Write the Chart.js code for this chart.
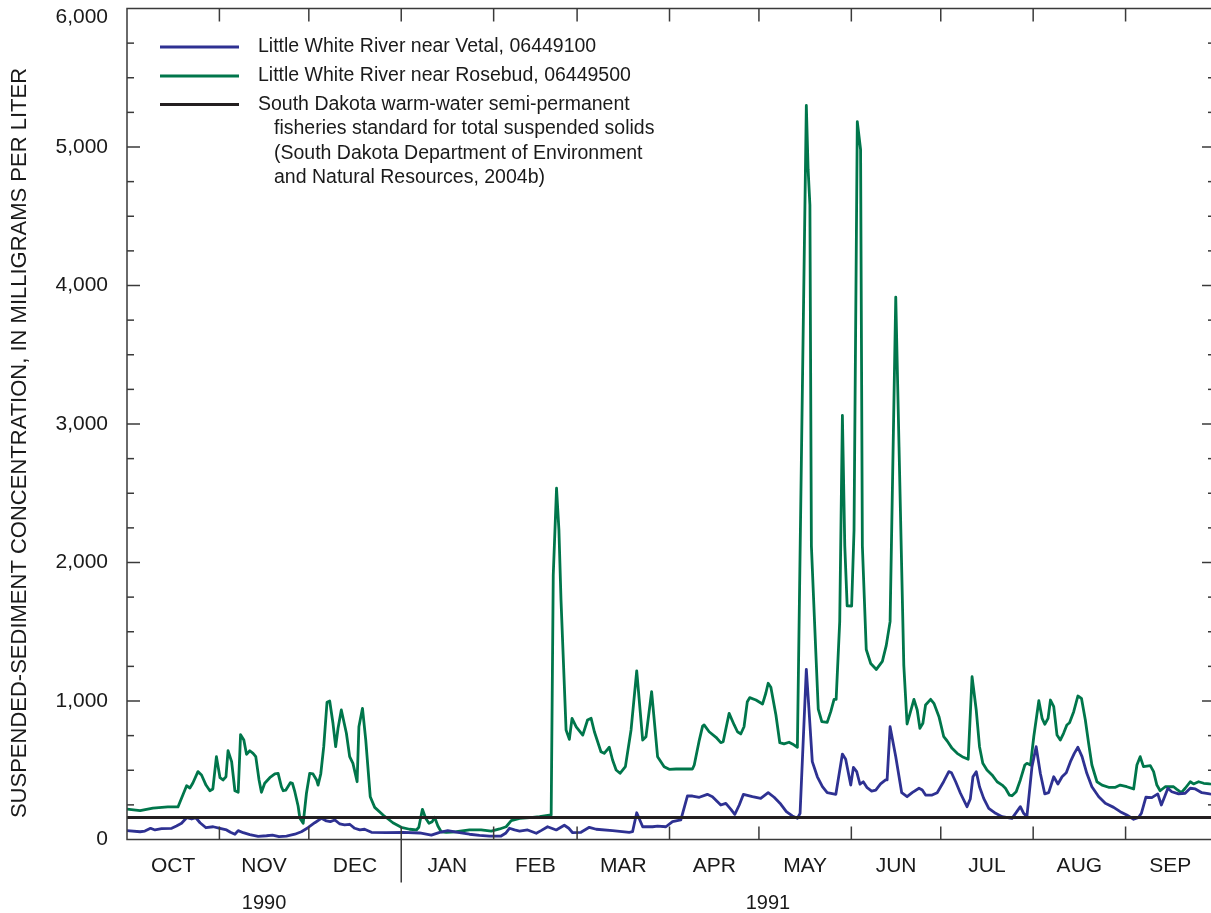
<!DOCTYPE html>
<html>
<head>
<meta charset="utf-8">
<script src="https://cdn.jsdelivr.net/npm/chart.js@4.4.1/dist/chart.umd.min.js"></script>
<style>
  html, body { margin: 0; padding: 0; overflow: hidden; background: #ffffff; }
  #wrap { width: 1215px; height: 913px; }
</style>
</head>
<body>
<div id="wrap"><canvas id="ssc" width="1215" height="913"></canvas></div>
<script>
// Water year 1991 (October 1990 - September 1991), x = day of water year
const monthNames   = ['OCT', 'NOV', 'DEC', 'JAN', 'FEB', 'MAR', 'APR', 'MAY', 'JUN', 'JUL', 'AUG', 'SEP'];
const monthLengths = [31, 30, 31, 31, 28, 31, 30, 31, 30, 31, 31, 30];
const yearNames    = ['1990', '1991'];
const yearCenters  = [46, 215];          // day of water year under which each year label sits
const yTickValues  = [0, 1000, 2000, 3000, 4000, 5000, 6000];

// Daily suspended-sediment concentration, milligrams per liter
const vetalDays = [0, 4.4, 6.0, 7.9, 9.4, 11.6, 15.0, 16.6, 18.3, 20.0, 21.7, 23.1, 24.5, 26.5, 28.9, 31.2, 33.4, 34.7,
  36.2, 37.3, 39.0, 41.2, 44.0, 46.8, 48.8, 51.0, 53.5, 56.3, 58.5, 60.7, 63.0, 65.2, 66.9, 68.2, 69.7, 71.4, 73.0,
  74.7, 76.4, 78.1, 79.7, 82.0, 87.0, 92.6, 98.2, 102.1, 104.9, 107.6, 111.0, 114.9, 118.3, 121.6, 125.5, 127.0,
  128.3, 130.0, 131.7, 134.4, 137.3, 138.9, 141.1, 144.0, 146.7, 148.2, 149.5, 152.3, 155.1, 157.4, 162.9, 168.5,
  169.6, 171.0, 173.0, 176.3, 178.0, 180.8, 183.0, 185.8, 188.0, 189.7, 192.0, 194.7, 196.4, 199.2, 200.9, 202.6,
  203.9, 205.4, 206.8, 209.8, 212.6, 215.1, 217.1, 219.3, 221.2, 223.2, 224.9, 225.8, 227.9, 228.8, 229.9, 231.6,
  233.3, 234.9, 237.8, 240.0, 241.1, 242.8, 243.7, 244.8, 245.9, 247.0, 248.3, 249.8, 251.2, 252.8, 254.5, 255.0,
  256.0, 257.9, 259.9, 261.7, 263.4, 265.7, 266.8, 267.9, 270.1, 271.8, 274.0, 275.7, 276.6, 278.0, 279.6, 281.8,
  282.9, 283.8, 284.9, 286.0, 287.4, 289.1, 291.4, 293.6, 296.9, 298.1, 299.7, 300.8, 301.9, 303.6, 305.0, 306.4,
  307.9, 309.2, 310.9, 312.3, 313.7, 315.1, 316.5, 317.8, 319.0, 320.4, 322.0, 323.7, 326.0, 328.2, 331.0, 333.2,
  335.4, 337.7, 339.4, 340.3, 341.8, 343.8, 345.8, 347.0, 348.1, 349.2, 350.5, 352.8, 355.0, 356.7, 358.4, 360.6,
  363.2, 365];
const vetalSSC = [64, 56, 61, 81, 69, 78, 81, 97, 117, 157, 148, 157, 121, 85, 92, 81, 69, 52,
  38, 64, 49, 35, 23, 27, 32, 20, 25, 38, 56, 85, 121, 153, 134, 129, 141, 112, 105,
  110, 81, 69, 74, 52, 49, 52, 47, 32, 52, 64, 52, 38, 30, 25, 25, 45,
  81, 69, 61, 69, 45, 64, 92, 69, 103, 81, 49, 52, 88, 74, 64, 52,
  56, 193, 92, 92, 97, 92, 129, 141, 314, 314, 305, 326, 309, 249, 261, 218,
  182, 249, 326, 309, 297, 338, 305, 256, 201, 170, 153, 189, 1229, 935, 562, 453,
  381, 338, 326, 617, 579, 393, 521, 490, 399, 417, 374, 350, 357, 401, 430, 430,
  814, 598, 338, 309, 338, 370, 357, 321, 321, 338, 419, 490, 482, 417, 334, 237,
  292, 453, 490, 381, 297, 225, 189, 165, 153, 189, 237, 189, 165, 526, 670, 478,
  329, 338, 453, 401, 453, 482, 562, 622, 666, 598, 478, 381, 309, 261, 232, 201,
  177, 146, 160, 189, 305, 302, 329, 249, 309, 370, 345, 329, 334, 370, 365, 338,
  329, 325];

const rosebudDays = [0, 4.4, 8.7, 13.7, 17.1, 20.0, 21.1, 22.1, 23.8, 25.0, 26.5, 27.8, 28.8, 30.0, 31.2, 32.2, 33.2,
  33.9, 35.1, 36.2, 37.3, 38.1, 39.2, 40.1, 41.2, 42.3, 43.2, 44.3, 45.1, 46.2, 47.9, 49.6, 50.7, 51.8, 52.4, 53.3,
  54.8, 55.5, 56.3, 57.4, 58.0, 59.1, 60.2, 61.3, 62.4, 63.6, 64.1, 65.0, 66.0, 67.1, 68.0, 69.1, 70.0, 70.8, 71.9,
  73.6, 74.7, 75.8, 77.2, 77.8, 79.0, 80.1, 81.6, 83.1, 85.9, 89.2, 92.0, 94.8, 97.1, 97.9, 99.1, 100.2, 101.3,
  102.4, 103.2, 104.3, 105.4, 107.1, 110.5, 114.9, 118.8, 122.2, 125.0, 127.2, 128.9, 131.7, 136.1, 138.4, 140.6,
  142.3, 143.0, 144.1, 144.9, 145.6, 147.3, 148.4, 149.3, 150.7, 152.9, 154.5, 155.7, 156.8, 159.0, 160.1, 161.8,
  162.9, 164.1, 165.4, 167.2, 169.1, 171.0, 173.0, 174.1, 176.0, 178.0, 180.2, 181.9, 184.2, 189.7, 190.3, 192.0,
  193.1, 193.6, 195.3, 197.6, 199.2, 200.0, 202.0, 203.7, 204.8, 205.9, 207.0, 208.1, 208.9, 211.0, 213.2, 214.3,
  215.1, 216.0, 217.7, 219.0, 220.4, 222.1, 223.2, 224.9, 227.9, 228.5, 229.1, 229.6, 231.1, 231.9, 233.1, 234.9,
  236.1, 237.2, 237.9, 239.1, 240.0, 240.8, 241.6, 243.1, 243.9, 245.0, 246.1, 246.7, 248.0, 249.5, 251.4, 253.4,
  254.7, 256.0, 257.9, 259.0, 260.6, 261.7, 264.0, 265.1, 266.0, 267.0, 267.9, 269.6, 270.7, 272.4, 274.0, 275.1,
  276.8, 278.5, 280.2, 282.2, 283.5, 284.9, 286.0, 287.1, 288.5, 290.2, 291.9, 293.6, 294.7, 296.0, 296.9, 298.3,
  299.7, 301.2, 301.9, 303.1, 304.2, 305.9, 307.0, 307.9, 309.0, 309.8, 310.9, 312.0, 313.1, 314.2, 315.3, 316.2,
  317.6, 319.0, 320.2, 321.5, 322.6, 323.7, 325.4, 327.1, 329.3, 331.6, 333.2, 335.4, 337.7, 338.8, 339.9, 341.0,
  343.3, 344.4, 345.5, 346.6, 348.3, 351.1, 352.2, 353.7, 355.0, 356.7, 357.8, 359.5, 361.2, 363.2, 365];
const rosebudSSC = [220, 208, 227, 235, 235, 388, 372, 408, 490, 466, 393, 352, 365, 598, 446, 430, 453,
  641, 562, 352, 341, 757, 718, 615, 641, 622, 598, 430, 341, 406, 446, 473, 478, 381, 352, 357,
  410, 406, 345, 242, 153, 117, 334, 478, 473, 430, 393, 473, 670, 991, 1000, 839, 670, 803, 935,
  767, 598, 550, 417, 814, 947, 718, 309, 232, 177, 121, 88, 74, 69, 88, 218, 153, 117,
  129, 160, 97, 56, 52, 56, 69, 69, 61, 76, 92, 136, 153, 160, 165, 172,
  177, 1910, 2536, 2235, 1729, 791, 723, 875, 814, 754, 863, 875, 778, 634, 622, 666,
  574, 502, 478, 526, 791, 1217, 718, 742, 1067, 598, 526, 507, 509, 509, 538, 718,
  819, 827, 778, 738, 699, 706, 911, 827, 778, 762, 814, 995, 1024, 1007, 978, 1056,
  1128, 1099, 899, 699, 690, 702, 690, 666, 5300, 4838, 4581, 2119, 1343, 942, 851, 846,
  923, 1012, 1012, 1573, 3062, 2119, 1687, 1686, 2231, 5183, 4982, 2119, 1372, 1271, 1228, 1286,
  1400, 1573, 3916, 2834, 1257, 834, 1012, 935, 803, 839, 971, 1012, 983, 887, 742, 713,
  658, 622, 598, 579, 1175, 935, 670, 550, 502, 466, 417, 393, 370, 321, 316, 345,
  430, 538, 550, 538, 742, 1002, 875, 832, 875, 1007, 959, 754, 718, 767, 827, 843,
  923, 1036, 1019, 863, 695, 538, 417, 393, 377, 377, 393, 381, 365, 538, 598, 526,
  533, 490, 393, 352, 381, 381, 362, 338, 370, 417, 401, 417, 406, 401, 400];

// South Dakota warm-water semi-permanent fisheries standard, total suspended solids
const fisheriesStandard = 158;

const vetalLabel = 'Little White River near Vetal, 06449100';
const rosebudLabel = 'Little White River near Rosebud, 06449500';
const standardLabel = ['South Dakota warm-water semi-permanent',
  'fisheries standard for total suspended solids',
  '(South Dakota Department of Environment',
  'and Natural Resources, 2004b)'];
const yTitle = 'SUSPENDED-SEDIMENT CONCENTRATION, IN MILLIGRAMS PER LITER';

const FONT = '"Liberation Sans", Arial, Helvetica, sans-serif';
const INK = '#1a1a1a';
const FRAME = '#3a3a3a';
const BLUE = '#2e3192';
const GREEN = '#00764b';
const BLACK = '#231f20';
const TICK_FONT = 21;

const monthStarts = [0];
monthLengths.forEach(n => monthStarts.push(monthStarts[monthStarts.length - 1] + n));
const monthMids = monthLengths.map((n, i) => monthStarts[i] + n / 2);
const JAN_INDEX = 3;
const yTop = yTickValues[yTickValues.length - 1];
const fmt = v => v.toLocaleString('en-US');

const toPoints = (days, vals) => days.map((d, i) => ({ x: d, y: vals[i] }));

function seg(ctx, x1, y1, x2, y2) {
  ctx.beginPath(); ctx.moveTo(x1, y1); ctx.lineTo(x2, y2); ctx.stroke();
}

// Frame, inward tick marks, year labels and the vertical axis title
const framePlugin = {
  id: 'frameTicks',
  afterDatasetsDraw(chart) {
    const { ctx, chartArea: { left, right, top, bottom }, scales: { x, y } } = chart;
    ctx.save();
    ctx.strokeStyle = FRAME;
    ctx.lineWidth = 1.5;
    ctx.strokeRect(left, top, right - left, bottom - top);
    for (let v = 250; v < yTop; v += 250) {
      const py = y.getPixelForValue(v);
      const len = v % 1000 === 0 ? 13 : 7;
      seg(ctx, left, py, left + len, py);
      seg(ctx, right - len, py, right, py);
    }
    monthStarts.forEach((d, i) => {
      if (i === 0 || i === monthStarts.length - 1) return;
      const px = x.getPixelForValue(d);
      seg(ctx, px, top, px, top + 13);
      seg(ctx, px, bottom - 13, px, i === JAN_INDEX ? bottom + 43 : bottom);
    });
    ctx.restore();
  },
  afterDraw(chart) {
    const { ctx, chartArea: { left, top }, scales: { x } } = chart;
    ctx.save();
    ctx.fillStyle = INK;
    // top value label sits just below its tick so it stays inside the page
    ctx.font = TICK_FONT + 'px ' + FONT;
    ctx.textAlign = 'right';
    ctx.textBaseline = 'middle';
    ctx.fillText(fmt(yTop), left - 19, top + 9);
    ctx.textAlign = 'center';
    ctx.font = '20px ' + FONT;
    yearNames.forEach((t, i) => ctx.fillText(t, x.getPixelForValue(yearCenters[i]), 903));
    ctx.translate(20, 443);
    ctx.rotate(-Math.PI / 2);
    ctx.font = '22px ' + FONT;
    ctx.fillText(yTitle, 0, 0);
    ctx.restore();
  }
};

// Key drawn inside the upper-left corner of the plot
const keyPlugin = {
  id: 'plotKey',
  afterDraw(chart) {
    const { ctx } = chart;
    const rows = [
      { color: BLUE, width: 2.8, lines: [vetalLabel] },
      { color: GREEN, width: 2.8, lines: [rosebudLabel] },
      { color: BLACK, width: 3, lines: standardLabel }
    ];
    ctx.save();
    ctx.font = '19.5px ' + FONT;
    ctx.textBaseline = 'middle';
    ctx.textAlign = 'left';
    ctx.fillStyle = INK;
    const rowY = [47, 76, 104.5];
    rows.forEach((r, i) => {
      ctx.strokeStyle = r.color;
      ctx.lineWidth = r.width;
      seg(ctx, 160, rowY[i], 239, rowY[i]);
      r.lines.forEach((t, j) => {
        ctx.fillText(t, j === 0 ? 258 : 274, rowY[i] + j * 24.5);
      });
    });
    ctx.restore();
  }
};

new Chart(document.getElementById('ssc'), {
  type: 'line',
  data: {
    datasets: [
      { label: standardLabel.join(' '), data: [{ x: 0, y: fisheriesStandard }, { x: 365, y: fisheriesStandard }],
        borderColor: BLACK, borderWidth: 3, pointRadius: 0, order: 0 },
      { label: vetalLabel, data: toPoints(vetalDays, vetalSSC),
        borderColor: BLUE, borderWidth: 2.8, pointRadius: 0, order: 1 },
      { label: rosebudLabel, data: toPoints(rosebudDays, rosebudSSC),
        borderColor: GREEN, borderWidth: 2.8, pointRadius: 0, order: 2 }
    ]
  },
  options: {
    responsive: false,
    animation: false,
    devicePixelRatio: 1,
    layout: { padding: { top: 8.5, left: 0, right: 0, bottom: 0 } },
    elements: { line: { tension: 0, borderJoinStyle: 'round', borderCapStyle: 'butt' } },
    plugins: { legend: { display: false }, tooltip: { enabled: false } },
    scales: {
      x: {
        type: 'linear', min: 0, max: 365,
        grid: { display: false, drawTicks: false },
        border: { display: false },
        afterBuildTicks: s => { s.ticks = monthMids.map(v => ({ value: v })); },
        afterFit: s => { s.height = 913 - 839.5; s.paddingLeft = 0; s.paddingRight = 0; },
        ticks: {
          autoSkip: false, maxRotation: 0, minRotation: 0, padding: 14, color: INK,
          font: { family: FONT, size: TICK_FONT },
          callback: (v, i) => monthNames[i]
        }
      },
      y: {
        type: 'linear', min: 0, max: yTop,
        grid: { display: false, drawTicks: false },
        border: { display: false },
        afterBuildTicks: s => { s.ticks = yTickValues.map(v => ({ value: v })); },
        afterFit: s => { s.width = 127; s.paddingTop = 0; s.paddingBottom = 0; },
        ticks: {
          padding: 19, color: INK,
          font: { family: FONT, size: TICK_FONT },
          callback: v => (v === yTop ? '' : fmt(v))
        }
      }
    }
  },
  plugins: [framePlugin, keyPlugin]
});
</script>
</body>
</html>
